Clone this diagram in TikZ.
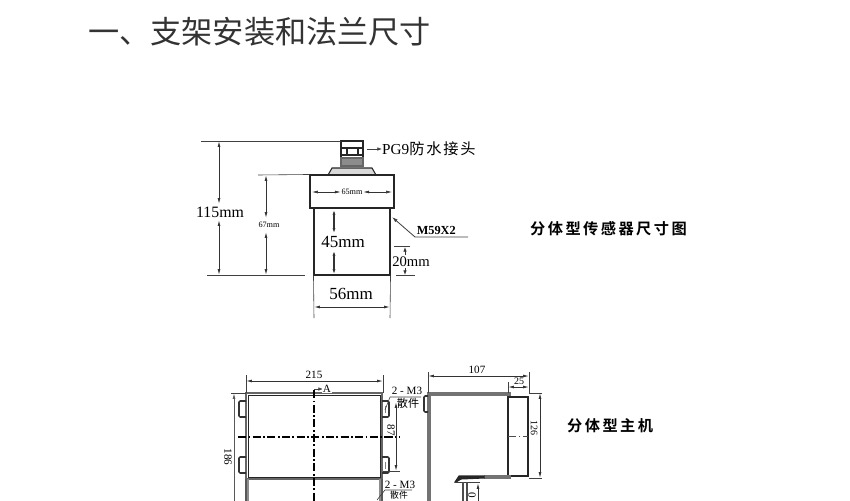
\documentclass[tikz,border=0pt]{standalone}
\usepackage{fontspec}
\setmainfont{Liberation Serif}
\newfontfamily\cjk{Noto Sans CJK SC}
\newfontfamily\cjkwide[LetterSpace=12]{Noto Sans CJK SC}
\newfontfamily\cjkbold[LetterSpace=16]{Noto Sans CJK SC Bold}
\usetikzlibrary{arrows.meta}
\usetikzlibrary{positioning}
\tikzset{
  part/.style={draw=black!85, line width=0.9pt},
  wall/.style={draw=black!55, line width=2.8pt},
  lug/.style={draw=black!80, line width=1.3pt, rounded corners=1pt},
  dimline/.style={draw=black!80, line width=0.7pt, {Latex[length=5pt,width=2.5pt]}-{Latex[length=5pt,width=2.5pt]}},
  extline/.style={draw=black!75, line width=0.5pt},
  axisline/.style={draw=black, line width=0.9pt, dash pattern=on 7pt off 2pt on 1.5pt off 2pt},
  dimtext/.style={font=\fontsize{9.5}{9.5}\selectfont, inner sep=0.5pt, fill=white},
  bigtext/.style={font=\fontsize{14.5}{14.5}\selectfont, inner sep=0.5pt, fill=white},
  smalltext/.style={font=\fontsize{7}{7}\selectfont, inner sep=0.5pt, fill=white},
  cjktext/.style={font=\cjk\fontsize{9.5}{9.5}\selectfont, inner sep=0pt},
  captext/.style={font=\cjkbold\fontsize{13}{13}\selectfont, inner sep=0pt, anchor=west},
}
\begin{document}
\begin{tikzpicture}[x=0.03cm, y=-0.03cm]
  \useasboundingbox (0,0) rectangle (850,500);
  \clip (0,0) rectangle (850,500);
  % heading
  \node[font=\cjk\fontsize{26.6}{26.6}\selectfont, inner sep=0pt, anchor=west, text=black!80] (Heading) at (88,32) {一、支架安装和法兰尺寸};
  % sensor
  \coordinate (CapTL) at (341,141);
  \draw[part, line width=1.3pt] (CapTL) rectangle (363,166);
  \draw[part, fill=black!45, draw=black!60] (341,158) rectangle (363,166);
  \draw[part, line width=1.2pt] (341,148) -- (363,148) (341,155) -- (363,155) (347,148) -- (347,155) (358,148) -- (358,155);
  \draw[part, fill=black!15] (332,168) -- (372,168) -- (376,175) -- (328,175) -- cycle;
  \node[part, minimum width=84*0.03cm, minimum height=33*0.03cm, inner sep=0pt] (Flange) at (352,191.5) {};
  \node[part, minimum width=76*0.03cm, minimum height=67*0.03cm, inner sep=0pt] (Body) at (352,241.5) {};
  \draw[part, line width=1.6pt] (314,209) -- (314,275) -- (390,275) (390,218) -- (390,246);
  \node[smalltext] (Width65) at (352,192) {65mm};
  \draw[dimline, line width=0.5pt] (Width65) -- (312,192);
  \draw[dimline, line width=0.5pt] (Width65) -- (392,192);
  \draw[extline] (201,141) -- (CapTL);
  \draw[extline] (207,275) -- (305,275);
  \draw[extline] (258,175) -- (Flange.north west);
  \node[bigtext, font=\fontsize{13.5}{13.5}\selectfont] (H115) at (220,212) {115mm};
  \draw[dimline] (219,204) -- (219,141);
  \draw[dimline] (219,220) -- (219,275);
  \node[smalltext] (H67) at (269,225) {67mm};
  \draw[dimline] (266,218) -- (266,175);
  \draw[dimline] (266,232) -- (266,275);
  \node[bigtext] (H45) at (343,242) {45mm};
  \draw[dimline, line width=1pt] (334,234) -- (334,209);
  \draw[dimline, line width=1pt] (334,250) -- (334,275);
  \node[bigtext] (W56) at (351,294) {56mm};
  \draw[extline] (Body.south west) -- (314,318) (Body.south east) -- (390,318);
  \draw[dimline] (314,307) -- (390,307);
  \node[bigtext, font=\fontsize{12.5}{12.5}\selectfont] (H20) at (411,262) {20mm};
  \draw[extline] (394,246) -- (410,246) (396,275) -- (415,275);
  \draw[dimline, {Latex[length=4pt,width=3pt]}-] (405,247) -- (405,255);
  \draw[dimline, -{Latex[length=4pt,width=3pt]}] (405,268) -- (405,275);
  \node[dimtext, font=\fontsize{10.5}{10.5}\selectfont\bfseries, anchor=west] (Thread) at (416,230) {M59X2};
  \draw[extline, line width=0.7pt, -{Latex[length=5pt,width=3pt]}] (468,237) -- (415,237) -- (392,217);
  \node[cjktext, font=\cjkwide\fontsize{13}{13}\selectfont, anchor=west] (Gland) at (382,149) {{\rmfamily PG9}防水接头};
  \coordinate (GlandTail) at (367,149);
  \draw[extline, -{Latex[length=4pt,width=3pt]}] (GlandTail) -- (Gland.west);
  \node[captext] (SensorCap) at (530,229) {分体型传感器尺寸图};
  % front view of host
  \node[minimum width=136*0.03cm, minimum height=86*0.03cm, inner sep=0pt, draw=black!60, line width=0.9pt] (Plate) at (314,436) {};
  \node[minimum width=132*0.03cm, minimum height=82*0.03cm, inner sep=0pt, draw=black!85, line width=0.8pt] (PlateIn) at (314,436) {};
  \draw[part, draw=black!65] (246,479) -- (246,505) (382,479) -- (382,505);
  \draw[part, draw=black!45] (248,479) -- (248,505) (380,479) -- (380,505);
  \foreach \y in {401,457} {
    \draw[lug] (246,\y) -- (239,\y) -- (239,\y+16) -- (246,\y+16);
    \draw[lug] (382,\y) -- (389,\y) -- (389,\y+16) -- (382,\y+16);
    \draw[extline, draw=black!50] (385,\y+5) -- (385,\y+12);
  }
  \draw[axisline] (314,390) -- (314,505);
  \draw[axisline] (238,437) -- (400,437);
  \draw[extline, -{Latex[length=4pt,width=3pt]}] (314,389) -- (323,389);
  \node[dimtext] (LabelA) at (327,389) {A};
  \node[dimtext] (W215) at (314,375) {215};
  \draw[extline] (246,375) -- (246,393) (383,375) -- (383,393);
  \draw[dimline] (246,381) -- (383,381);
  \draw[extline] (231,393) -- (246,393);
  \draw[dimline, draw=black!65] (234,393) -- (234,510);
  \node[dimtext, rotate=-90, fill=none] (H186) at (228,457) {186};
  \draw[dimline] (396,402) -- (396,471);
  \draw[extline] (383,471) -- (400,471);
  \node[dimtext, rotate=-90, fill=none] (H87) at (391,430) {87};
  \node[dimtext, fill=none] (TagOne) at (407,391) {2 - M3};
  \node[cjktext] (PartOne) at (408,403) {散件};
  \draw[extline] (421,397) -- (390,397) -- (385,410);
  \node[dimtext, fill=none] (TagTwo) at (400,485) {2 - M3};
  \node[cjktext, font=\cjk\fontsize{7.5}{7.5}\selectfont] (PartTwo) at (399,495) {散件};
  \draw[extline] (412,490) -- (385,490) -- (377,500);
  % side view of host
  \draw[wall] (511,394) -- (429,394) -- (429,505);
  \draw[lug] (428,396) -- (424,396) -- (424,412) -- (428,412);
  \draw[part, line width=1.1pt] (508,397) rectangle (528,476);
  \draw[wall] (511,477) -- (484,477);
  \draw[part, fill=black!85] (459,476) -- (484,476) -- (484,478) -- (461,479) -- (456,482) -- (455,482) -- cycle;
  \draw[extline] (455,482) -- (480,482);
  \draw[part, draw=black!70] (463,482) -- (463,505) (467,482) -- (467,505);
  \draw[axisline, line width=0.6pt, draw=black!70] (508,436) -- (528,436);
  \node[dimtext] (W107) at (477,370) {107};
  \draw[extline] (428,372) -- (428,393) (529,372) -- (529,393);
  \draw[dimline] (428,376) -- (529,376);
  \node[dimtext, font=\fontsize{8.5}{8.5}\selectfont, fill=none] (W25) at (519,381) {25};
  \draw[extline] (508,382) -- (508,393);
  \draw[dimline] (508,387) -- (529,387);
  \draw[extline] (529,393) -- (542,393) (529,478) -- (542,478);
  \draw[dimline] (540,393) -- (540,478);
  \node[dimtext, font=\fontsize{8.5}{8.5}\selectfont, rotate=-90] (H126) at (534,428) {126};
  \node[dimtext, rotate=-90, fill=none] (HZero) at (472,495) {0};
  \draw[dimline, -{Latex[length=5pt,width=2.5pt]}] (478,505) -- (478,483);
  \node[captext] (HostCap) at (567,426) {分体型主机};
\end{tikzpicture}
\end{document}
